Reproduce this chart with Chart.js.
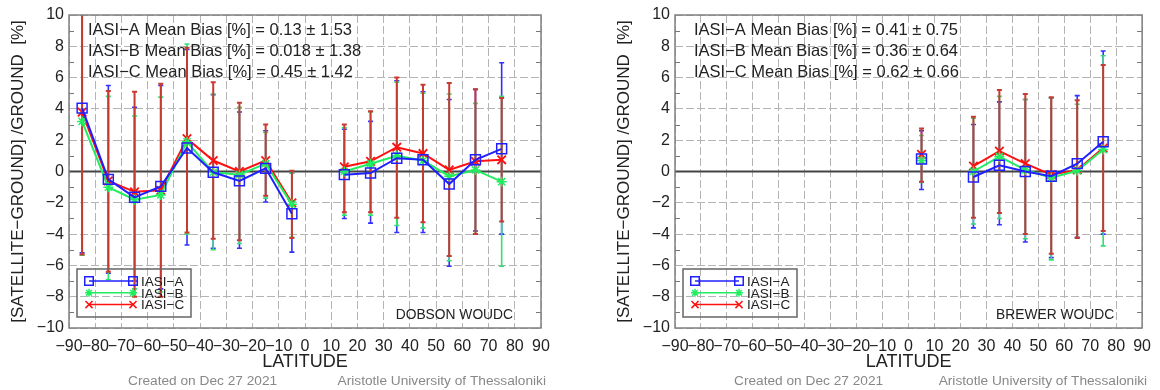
<!DOCTYPE html>
<html>
<head>
<meta charset="utf-8">
<script src="https://cdn.jsdelivr.net/npm/chart.js"></script>
<style>
  html, body { margin: 0; padding: 0; background: #fff; }
  #wrap { position: relative; width: 1160px; height: 390px; }
  canvas { position: absolute; top: 0; }
</style>
</head>
<body>
<div id="wrap">
  <canvas id="dobson" width="580" height="390" style="left:0"></canvas>
  <canvas id="brewer" width="580" height="390" style="left:580px"></canvas>
</div>
<script>
// tick labels
const X_TICKS = [-90,-80,-70,-60,-50,-40,-30,-20,-10,0,10,20,30,40,50,60,70,80,90];
const Y_TICKS = [-10,-8,-6,-4,-2,0,2,4,6,8,10];
const SERIES = ['IASI\u2212A', 'IASI\u2212B', 'IASI\u2212C'];

// DOBSON WOUDC panel (5N has no data)
const LAT_D = [-85,-75,-65,-55,-45,-35,-25,-15,-5,5,15,25,35,45,55,65,75];
const D_A    = [4.05,-0.5,-1.65,-0.95,1.5,-0.05,-0.6,0.2,-2.7,null,-0.2,-0.1,0.85,0.75,-0.8,0.75,1.45];
const D_B    = [3.2,-1.0,-1.8,-1.5,1.9,-0.05,-0.2,0.5,-2.1,null,0.0,0.5,1.0,0.7,-0.3,0.1,-0.65];
const D_C    = [3.8,-0.6,-1.3,-1.2,2.1,0.7,0.0,0.7,-2.0,null,0.3,0.65,1.55,1.15,0.1,0.65,0.75];
const D_A_HI = [13.3,5.5,4.1,5.5,7.8,4.9,3.8,2.6,-0.1,null,2.7,3.2,5.8,5.1,4.6,5.25,6.95];
const D_A_LO = [-5.2,-6.5,-7.0,-7.5,-4.7,-4.9,-4.9,-1.95,-5.15,null,-3.0,-3.3,-3.9,-3.9,-6.05,-3.8,-4.0];
const D_B_HI = [12.0,4.8,3.55,4.75,8.15,4.95,4.1,2.5,-0.1,null,2.8,3.8,5.7,5.0,4.95,4.35,4.8];
const D_B_LO = [-5.35,-6.9,-7.5,-7.7,-4.0,-5.0,-4.6,-1.7,-4.2,null,-2.8,-2.8,-3.45,-3.6,-5.7,-4.0,-6.05];
const D_C_HI = [12.9,5.15,5.1,5.6,7.9,5.7,4.4,3.0,0.05,null,3.0,3.85,6.0,5.55,5.65,5.25,4.7];
const D_C_LO = [-5.3,-6.4,-8.0,-8.0,-3.9,-4.3,-4.4,-1.55,-4.25,null,-2.6,-2.6,-2.95,-3.25,-5.4,-4.0,-3.2];
const D_STATS = ['0.13 \u00b1 1.53', '0.018 \u00b1 1.38', '0.45 \u00b1 1.42'];

// BREWER WOUDC panel (15N has no data)
const LAT_B = [5,15,25,35,45,55,65,75];
const B_A    = [0.8,null,-0.35,0.4,0.0,-0.3,0.5,1.9];
const B_B    = [0.7,null,0.0,0.95,0.1,-0.4,0.05,1.4];
const B_C    = [1.1,null,0.35,1.3,0.5,-0.2,0.1,1.5];
const B_A_HI = [2.6,null,3.0,4.45,4.6,4.7,4.85,7.7];
const B_A_LO = [-1.15,null,-3.6,-3.4,-4.5,-5.5,-4.2,-4.0];
const B_B_HI = [2.3,null,3.4,4.8,4.6,4.7,4.3,7.4];
const B_B_LO = [-0.7,null,-3.35,-3.0,-4.3,-5.65,-4.25,-4.75];
const B_C_HI = [2.75,null,3.5,5.2,4.95,4.75,4.55,6.8];
const B_C_LO = [-0.65,null,-2.95,-2.65,-4.0,-5.25,-4.25,-3.8];
const B_STATS = ['0.41 \u00b1 0.75', '0.36 \u00b1 0.64', '0.62 \u00b1 0.66'];

const COLORS = ['#2020ff', '#20ee60', '#ff1010'];
const BAR_COLORS = ['#3030ff', '#30e070', 'rgb(200,58,48)'];
const MARKERS = [
  {pointStyle: 'rect', radius: 7, borderWidth: 1.5},
  {pointStyle: 'star', radius: 5, borderWidth: 1.5},
  {pointStyle: 'crossRot', radius: 6, borderWidth: 1.8}
];
const FONT = '"Liberation Sans", Arial, sans-serif';
const minus = s => String(s).replace('-', '\u2212');

function makePanel(id, lats, vals, his, los, stats, station, plotLeft, padRight) {
  const canvas = document.getElementById(id);

  const panelPlugin = {
    id: 'panelExtras',
    beforeDatasetsDraw(chart) {
      const {ctx, chartArea: a, scales: {x, y}} = chart;
      ctx.save();
      // zero line
      ctx.strokeStyle = '#444';
      ctx.lineWidth = 2;
      ctx.beginPath();
      ctx.moveTo(a.left, y.getPixelForValue(0));
      ctx.lineTo(a.right, y.getPixelForValue(0));
      ctx.stroke();
      // minor ticks at odd values
      ctx.strokeStyle = '#777';
      ctx.lineWidth = 1;
      for (let v = -9; v <= 9; v += 2) {
        const py = Math.round(y.getPixelForValue(v)) + 0.5;
        ctx.beginPath();
        ctx.moveTo(a.left, py); ctx.lineTo(a.left + 5, py);
        ctx.moveTo(a.right, py); ctx.lineTo(a.right - 5, py);
        ctx.stroke();
      }
      // error bars
      ctx.beginPath();
      ctx.rect(a.left, a.top, a.right - a.left, a.bottom - a.top);
      ctx.clip();
      for (let s = 0; s < 3; s++) {
        ctx.strokeStyle = BAR_COLORS[s];
        ctx.lineWidth = s === 2 ? 2 : 1.6;
        lats.forEach((lat, i) => {
          if (his[s][i] == null) return;
          const px = x.getPixelForValue(lat);
          const pt = y.getPixelForValue(his[s][i]);
          const pb = y.getPixelForValue(los[s][i]);
          ctx.beginPath();
          ctx.moveTo(px, pt); ctx.lineTo(px, pb);
          ctx.moveTo(px - 2.5, pt); ctx.lineTo(px + 2.5, pt);
          ctx.moveTo(px - 2.5, pb); ctx.lineTo(px + 2.5, pb);
          ctx.stroke();
        });
      }
      ctx.restore();
    },
    afterDraw(chart) {
      const {ctx, chartArea: a} = chart;
      ctx.save();
      // frame
      ctx.strokeStyle = '#808080';
      ctx.lineWidth = 1.5;
      ctx.strokeRect(a.left, a.top, a.right - a.left, a.bottom - a.top);

      // mean bias text
      ctx.fillStyle = '#222';
      ctx.font = '16.5px ' + FONT;
      ctx.textAlign = 'left';
      ctx.textBaseline = 'middle';
      stats.forEach((t, i) => {
        ctx.fillText(SERIES[i] + ' Mean Bias [%] = ' + t, a.left + 19, 30 + i * 21);
      });

      // station label
      ctx.font = '13.8px ' + FONT;
      ctx.textAlign = 'right';
      ctx.fillText(station, a.right - 28, 315);

      // legend box
      const lx = a.left + 8, ly = 269;
      ctx.strokeStyle = '#666';
      ctx.lineWidth = 1.5;
      ctx.strokeRect(lx, ly, 114, 48);
      ctx.textAlign = 'left';
      ctx.font = '13.5px ' + FONT;
      SERIES.forEach((name, i) => {
        const yy = ly + 12 + i * 11.8;
        ctx.strokeStyle = COLORS[i];
        ctx.lineWidth = 1.5;
        ctx.beginPath();
        ctx.moveTo(lx + 12, yy); ctx.lineTo(lx + 56, yy);
        ctx.stroke();
        const m = MARKERS[i];
        const opts = {pointStyle: m.pointStyle, radius: m.radius - 1, rotation: 0, borderWidth: m.borderWidth};
        ctx.fillStyle = 'rgba(0,0,0,0)';
        Chart.helpers.drawPoint(ctx, opts, lx + 12, yy);
        Chart.helpers.drawPoint(ctx, opts, lx + 56, yy);
        ctx.fillStyle = '#222';
        ctx.textBaseline = 'middle';
        ctx.fillText(name, lx + 64, yy + 1);
      });

      // y title
      ctx.save();
      ctx.translate(a.left - 51, (a.top + a.bottom) / 2);
      ctx.rotate(-Math.PI / 2);
      ctx.textAlign = 'center';
      ctx.textBaseline = 'middle';
      ctx.font = '17px ' + FONT;
      ctx.fillStyle = '#222';
      ctx.fillText('[SATELLITE\u2212GROUND] /GROUND  [%]', 0, 0);
      ctx.restore();

      // x title
      ctx.fillStyle = '#222';
      ctx.textAlign = 'center';
      ctx.textBaseline = 'middle';
      ctx.font = '18px ' + FONT;
      ctx.fillText('LATITUDE', (a.left + a.right) / 2, 362);

      // footer
      ctx.fillStyle = '#888';
      ctx.font = '13.7px ' + FONT;
      ctx.textAlign = 'left';
      ctx.fillText('Created on Dec 27 2021', a.left + 59, 381);
      ctx.textAlign = 'right';
      ctx.fillText('Aristotle University of Thessaloniki', a.right + 5, 381);
      ctx.restore();
    }
  };

  const datasets = vals.map((v, s) => ({
    label: SERIES[s],
    data: lats.map((lat, i) => ({x: lat, y: v[i]})),
    borderColor: COLORS[s],
    backgroundColor: 'rgba(0,0,0,0)',
    borderWidth: 2,
    pointStyle: MARKERS[s].pointStyle,
    pointRadius: MARKERS[s].radius,
    pointBorderWidth: MARKERS[s].borderWidth,
    pointBorderColor: COLORS[s],
    pointBackgroundColor: 'rgba(0,0,0,0)',
    spanGaps: false,
    tension: 0
  }));

  new Chart(canvas, {
    type: 'line',
    data: {datasets},
    options: {
      responsive: false,
      animation: false,
      layout: {padding: {left: 0, right: padRight, top: 15, bottom: 0}},
      plugins: {legend: {display: false}, tooltip: {enabled: false}},
      scales: {
        x: {
          type: 'linear', min: -90, max: 90,
          afterBuildTicks: sc => { sc.ticks = X_TICKS.map(v => ({value: v})); },
          afterFit: sc => { sc.height = 62; },
          grid: {color: '#b4b4b4', lineWidth: 1, drawTicks: false},
          border: {display: false, dash: [8, 3]},
          ticks: {
            autoSkip: false, maxRotation: 0, minRotation: 0, padding: 9,
            color: '#222', font: {family: FONT, size: 16},
            callback: v => minus(v)
          }
        },
        y: {
          type: 'linear', min: -10, max: 10,
          afterBuildTicks: sc => { sc.ticks = Y_TICKS.map(v => ({value: v})); },
          afterFit: sc => { sc.width = plotLeft; },
          grid: {color: '#b4b4b4', lineWidth: 1, drawTicks: false},
          border: {display: false, dash: [8, 3]},
          ticks: {
            padding: 5, color: '#222', font: {family: FONT, size: 16},
            callback: v => minus(v)
          }
        }
      }
    },
    plugins: [panelPlugin]
  });
}

makePanel('dobson', LAT_D, [D_A, D_B, D_C], [D_A_HI, D_B_HI, D_C_HI], [D_A_LO, D_B_LO, D_C_LO],
  D_STATS, 'DOBSON WOUDC', 69, 39);
makePanel('brewer', LAT_B, [B_A, B_B, B_C], [B_A_HI, B_B_HI, B_C_HI], [B_A_LO, B_B_LO, B_C_LO],
  B_STATS, 'BREWER WOUDC', 95, 14);
</script>
</body>
</html>
